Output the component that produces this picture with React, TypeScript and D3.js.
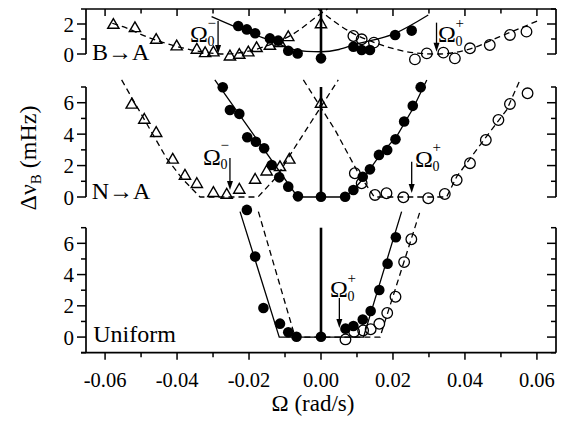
import React from 'react';
import * as d3 from 'd3';

// ---------- Data: top panel (B→A) ----------
const topTriX = [-0.0577, -0.0517, -0.0458, -0.0401, -0.0345, -0.0322, -0.0299, -0.0253, -0.0227, -0.0202, -0.0179, -0.0142, -0.0114, -0.0091, 0];
const topTriY = [1.93, 1.71, 0.93, 0.49, 0.27, 0.04, 0.09, -0.18, -0.07, 0.09, 0.38, 0.53, 0.71, 1.11, 1.97];
const topFillX = [-0.0230, -0.0206, -0.0183, -0.0142, -0.0119, -0.0091, -0.0065, 0, 0.0090, 0.0113, 0.0136, 0.0206, 0.0252];
const topFillY = [1.87, 1.64, 1.38, 1.04, 0.89, 0.22, 0.04, -0.29, 0.49, 0.27, 0.27, 1.27, 1.56];
const topOpenX = [0.0090, 0.0113, 0.0147, 0.0261, 0.0294, 0.0340, 0.0372, 0.0414, 0.0469, 0.0525, 0.0571];
const topOpenY = [1.20, 0.98, 0.76, -0.36, 0.04, 0.09, -0.29, 0.38, 0.60, 1.27, 1.49];
const topSolidX = [-0.0304, -0.0206, -0.0132, -0.0077, -0.0040, 0, 0.0050, 0.0090, 0.0206, 0.0298];
const topSolidY = [2.49, 1.49, 0.82, 0.30, 0.17, 0.15, 0.30, 0.60, 1.38, 2.60];
const topDashTriX = [-0.058, -0.055, -0.048, -0.038, -0.032, -0.027, -0.022, -0.015, -0.008, 0, 0.0018];
const topDashTriY = [2.05, 1.82, 1.11, 0.38, 0.10, 0.0, 0.10, 0.55, 1.30, 2.70, 3.0];
const topDashOpenX = [-0.0008, 0.008, 0.0155, 0.0256, 0.032, 0.0405, 0.0497, 0.0608];
const topDashOpenY = [3.0, 1.49, 0.71, 0.09, 0.0, 0.27, 1.16, 2.27];

// ---------- Data: middle panel (N→A) ----------
const midTriX = [-0.0526, -0.0491, -0.0458, -0.0412, -0.0378, -0.0345, -0.0299, -0.0262, -0.0227, -0.0183, -0.0151, -0.0114, -0.0088, 0];
const midTriY = [5.86, 4.90, 4.06, 2.36, 1.34, 0.81, 0.24, 0.13, 0.45, 1.08, 1.61, 1.89, 2.36, 5.92];
const midFillX = [-0.0273, -0.0253, -0.0227, -0.0205, -0.0181, -0.0158, -0.0137, -0.0116, -0.0091, -0.0064, 0, 0.0067, 0.0090, 0.0116, 0.0136, 0.0161, 0.0184, 0.0207, 0.0231, 0.0255, 0.0277];
const midFillY = [6.98, 5.54, 5.29, 3.80, 3.52, 3.10, 2.04, 1.25, 0.66, 0.04, 0.02, 0.02, 0.45, 1.29, 1.76, 2.68, 2.99, 3.67, 4.80, 5.80, 6.99];
const midOpenX = [0.0094, 0.0113, 0.0150, 0.0182, 0.0229, 0.0298, 0.0344, 0.0377, 0.0414, 0.0458, 0.0493, 0.0525, 0.0574];
const midOpenY = [1.51, 0.87, 0.13, 0.24, -0.02, -0.08, 0.19, 1.08, 2.15, 3.63, 4.90, 5.92, 6.60];
const midSolidX = [-0.0295, -0.0065, 0.0065, 0.0090, 0.0118, 0.0164, 0.0210, 0.0256, 0.0294];
const midSolidY = [7.45, 0, 0, 0.45, 1.19, 2.68, 3.84, 5.65, 7.45];
const midDashTriX = [-0.0554, -0.0429, -0.0385, -0.0336, -0.0175, -0.0123, -0.0077, 0, 0.0048];
const midDashTriY = [7.45, 2.46, 1.15, 0, 0, 1.29, 3.0, 5.75, 7.45];
const midDashOpenX = [-0.0049, 0.0039, 0.0104, 0.0148, 0.0349, 0.0377, 0.0456, 0.0516, 0.0553];
const midDashOpenY = [7.45, 4.27, 1.51, 0, 0, 1.29, 3.74, 5.54, 7.45];

// ---------- Data: bottom panel (Uniform) ----------
const botFillX = [-0.0206, -0.0183, -0.0160, -0.0114, -0.0091, -0.0068, 0, 0.0068, 0.0090, 0.0116, 0.0138, 0.0162, 0.0185, 0.0208];
const botFillY = [8.14, 5.15, 1.86, 0.86, 0.31, 0.02, 0.02, 0.54, 0.71, 1.12, 1.67, 3.01, 4.70, 6.39];
const botOpenX = [0.0068, 0.0092, 0.0117, 0.0138, 0.0162, 0.0184, 0.0207, 0.0231, 0.0251];
const botOpenY = [-0.15, 0.34, 0.42, 0.50, 0.85, 1.54, 2.58, 4.80, 6.26];
const botSolidX = [-0.0225, -0.0116, 0.0118, 0.0224];
const botSolidY = [8.03, 0, 0, 8.03];
const botDashX = [-0.0174, -0.0072, 0.0164, 0.0275];
const botDashY = [8.03, 0, 0, 8.03];

// ---------- Axes ----------
const xMajorTicks = [-0.06, -0.04, -0.02, 0, 0.02, 0.04, 0.06];
const xMinorTicks = [-0.05, -0.03, -0.01, 0.01, 0.03, 0.05];
const topYMajor = [0, 2];
const topYMinor = [1, 3];
const midYMajor = [0, 2, 4, 6];
const midYMinor = [1, 3, 5, 7];
const botYMajor = [0, 2, 4, 6];
const botYMinor = [-1, 1, 3, 5, 7];

// Vertical zero-lines (value ranges)
const topZeroLine = [-0.18, 3];
const midZeroLine = [0, 7];
const botZeroLine = [0, 7];

// Panel labels
const panelLabels = ['B→A', 'N→A', 'Uniform'];
const panelLabelX = [-0.0636, -0.0637, -0.0633];
const panelLabelY = [-0.4, -0.13, -0.32];

// Ω0 annotations
const omegaPanel = [0, 0, 1, 1, 2];
const omegaSign = ['−', '+', '−', '+', '+'];
const omegaTextX = [-0.0364, 0.0325, -0.0328, 0.0261, 0.0025];
const omegaTextY = [0.8, 0.8, 2.04, 1.91, 2.56];
const omegaArrowX = [-0.0286, 0.0321, -0.0253, 0.0252, 0.0051];
const omegaArrowY0 = [2.2, 2.09, 2.48, 2.25, 2.5];
const omegaArrowY1 = [0, 0.15, 0.45, 0.25, 0.58];

const FONT = "'Liberation Serif', 'Times New Roman', Times, 'DejaVu Serif', serif";

export default function App() {
  const x = d3.scaleLinear().domain([-0.0653, 0.0653]).range([86, 556]);
  const yTop = d3.scaleLinear().domain([0, 3]).range([54, 9]);
  const yMid = d3.scaleLinear().domain([0, 7]).range([197, 87]);
  const yBot = d3.scaleLinear().domain([-1, 7]).range([352.7, 227.7]);
  const ys = [yTop, yMid, yBot];

  const zip = (xs: number[], yv: number[]) => xs.map((v, i) => [v, yv[i]] as [number, number]);
  const lineGen = (y: d3.ScaleLinear<number, number>, curve = d3.curveLinear) =>
    d3.line<[number, number]>().x(d => x(d[0])).y(d => y(d[1])).curve(curve);

  const tri = d3.symbol().type(d3.symbolTriangle).size(55)();
  const R = 5.3;
  const left = 86, right = 556;

  const filled = (xs: number[], yv: number[], y: any, k: string) =>
    xs.map((v, i) => <circle key={k + i} cx={x(v)} cy={y(yv[i])} r={R} fill="#000" />);
  const open = (xs: number[], yv: number[], y: any, k: string) =>
    xs.map((v, i) => <circle key={k + i} cx={x(v)} cy={y(yv[i])} r={R} fill="none" stroke="#000" strokeWidth={1.3} />);
  const tris = (xs: number[], yv: number[], y: any, k: string) =>
    xs.map((v, i) => <path key={k + i} d={tri as string} transform={`translate(${x(v)},${y(yv[i])})`} fill="none" stroke="#000" strokeWidth={1.4} />);

  const yAxis = (y: any, major: number[], minor: number[], k: string) => {
    const [d0, d1] = y.domain();
    return (
      <g key={k}>
        <line x1={left} x2={left} y1={y(d0)} y2={y(d1)} stroke="#000" strokeWidth={1.7} />
        <line x1={right} x2={right} y1={y(d0)} y2={y(d1)} stroke="#000" strokeWidth={1.7} />
        {major.map(t => (
          <g key={'M' + t}>
            <line x1={left - 9} x2={left} y1={y(t)} y2={y(t)} stroke="#000" strokeWidth={1.5} />
            <line x1={right - 9} x2={right} y1={y(t)} y2={y(t)} stroke="#000" strokeWidth={1.5} />
            <text x={left - 12} y={y(t)} dy="0.36em" textAnchor="end" fontSize={21}>{t}</text>
          </g>
        ))}
        {minor.map(t => (
          <g key={'m' + t}>
            <line x1={left - 5} x2={left} y1={y(t)} y2={y(t)} stroke="#000" strokeWidth={1.5} />
            <line x1={right - 5} x2={right} y1={y(t)} y2={y(t)} stroke="#000" strokeWidth={1.5} />
          </g>
        ))}
      </g>
    );
  };

  const dash = '6,4';
  const topY0 = yTop.range()[1];
  const botAxisY = yBot.range()[0];

  return (
    <svg width={566} height={421} style={{ position: 'absolute', left: 0, top: 0, background: '#fff', fontFamily: FONT }}>
      <rect width={566} height={421} fill="#fff" />
      {yAxis(yTop, topYMajor, topYMinor, 'at')}
      {yAxis(yMid, midYMajor, midYMinor, 'am')}
      {yAxis(yBot, botYMajor, botYMinor, 'ab')}
      <line x1={left} x2={right} y1={topY0} y2={topY0} stroke="#000" strokeWidth={1.7} />
      {xMajorTicks.map(t => <line key={'tt' + t} x1={x(t)} x2={x(t)} y1={topY0} y2={topY0 + 7} stroke="#000" strokeWidth={1.5} />)}
      {xMinorTicks.map(t => <line key={'tm' + t} x1={x(t)} x2={x(t)} y1={topY0} y2={topY0 + 4.5} stroke="#000" strokeWidth={1.5} />)}
      <line x1={left - 5} x2={right} y1={botAxisY} y2={botAxisY} stroke="#000" strokeWidth={1.7} />
      {xMajorTicks.map(t => (
        <g key={'bt' + t}>
          <line x1={x(t)} x2={x(t)} y1={botAxisY} y2={botAxisY + 7} stroke="#000" strokeWidth={1.5} />
          <text x={x(t)} y={386.5} textAnchor="middle" fontSize={20.5}>{t.toFixed(2)}</text>
        </g>
      ))}
      {xMinorTicks.map(t => <line key={'bm' + t} x1={x(t)} x2={x(t)} y1={botAxisY} y2={botAxisY + 4.5} stroke="#000" strokeWidth={1.5} />)}

      <text x={313} y={411} textAnchor="middle" fontSize={23}>Ω (rad/s)</text>
      <text transform="translate(36,158) rotate(-90)" textAnchor="middle" fontSize={24}>
        Δν<tspan fontSize={15} dy={5}>B</tspan><tspan dy={-5}> (mHz)</tspan>
      </text>

      <g fill="none" stroke="#000" strokeWidth={1.3}>
        <path d={lineGen(yTop, d3.curveMonotoneX)(zip(topSolidX, topSolidY)) || ''} />
        <path d={lineGen(yTop, d3.curveMonotoneX)(zip(topDashTriX, topDashTriY)) || ''} strokeDasharray={dash} />
        <path d={lineGen(yTop, d3.curveMonotoneX)(zip(topDashOpenX, topDashOpenY)) || ''} strokeDasharray={dash} />
        <path d={lineGen(yMid)(zip(midSolidX, midSolidY)) || ''} />
        <path d={lineGen(yMid)(zip(midDashTriX, midDashTriY)) || ''} strokeDasharray={dash} />
        <path d={lineGen(yMid)(zip(midDashOpenX, midDashOpenY)) || ''} strokeDasharray={dash} />
        <path d={lineGen(yBot)(zip(botSolidX, botSolidY)) || ''} />
        <path d={lineGen(yBot)(zip(botDashX, botDashY)) || ''} strokeDasharray={dash} />
      </g>

      {tris(topTriX, topTriY, yTop, 'tt')}
      {filled(topFillX, topFillY, yTop, 'tf')}
      {open(topOpenX, topOpenY, yTop, 'to')}
      {tris(midTriX, midTriY, yMid, 'mt')}
      {filled(midFillX, midFillY, yMid, 'mf')}
      {open(midOpenX, midOpenY, yMid, 'mo')}
      {filled(botFillX, botFillY, yBot, 'bf')}
      {open(botOpenX, botOpenY, yBot, 'bo')}

      <line x1={x(0)} x2={x(0)} y1={yTop(topZeroLine[0])} y2={yTop(topZeroLine[1])} stroke="#000" strokeWidth={2.6} />
      <line x1={x(0)} x2={x(0)} y1={yMid(midZeroLine[0])} y2={yMid(midZeroLine[1])} stroke="#000" strokeWidth={2.6} />
      <line x1={x(0)} x2={x(0)} y1={yBot(botZeroLine[0])} y2={yBot(botZeroLine[1])} stroke="#000" strokeWidth={2.6} />

      {panelLabels.map((s, i) => (
        <text key={'pl' + i} x={x(panelLabelX[i])} y={ys[i](panelLabelY[i])} fontSize={24}>{s}</text>
      ))}

      {omegaPanel.map((p, i) => {
        const y = ys[p];
        const tx = x(omegaTextX[i]);
        const ty = y(omegaTextY[i]);
        const ax = x(omegaArrowX[i]);
        const a0 = y(omegaArrowY0[i]);
        const a1 = y(omegaArrowY1[i]);
        return (
          <g key={'om' + i}>
            <text x={tx} y={ty} fontSize={24}>Ω</text>
            <text x={tx + 17.5} y={ty - 14.5} fontSize={15}>{omegaSign[i]}</text>
            <text x={tx + 17.5} y={ty + 4} fontSize={14}>0</text>
            <line x1={ax} x2={ax} y1={a0} y2={a1 - 7} stroke="#000" strokeWidth={1.3} />
            <path d={`M${ax - 3},${a1 - 9} L${ax + 3},${a1 - 9} L${ax},${a1} Z`} fill="#000" />
          </g>
        );
      })}
    </svg>
  );
}
